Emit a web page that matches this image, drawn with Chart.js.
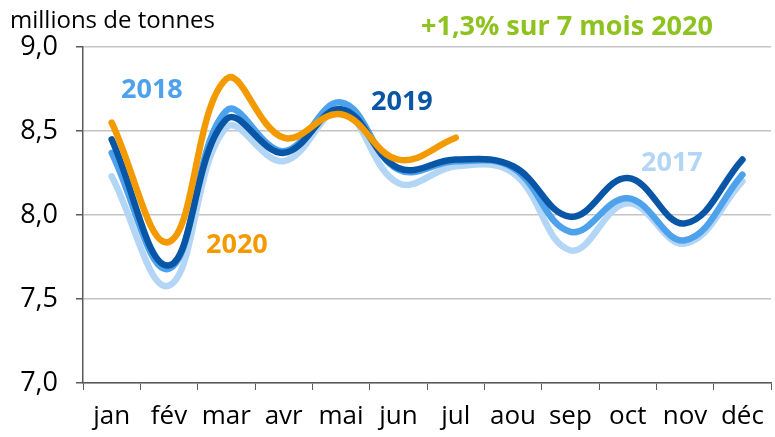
<!DOCTYPE html>
<html>
<head>
<meta charset="utf-8">
<script src="https://cdn.jsdelivr.net/npm/chart.js@4/dist/chart.umd.min.js"></script>
<style>
  html, body { margin: 0; padding: 0; background: #fff; }
  #wrap { width: 775px; height: 437px; position: relative; }
</style>
</head>
<body>
<div id="wrap"><canvas id="c"></canvas></div>
<script>
// ---------- DATA ----------
const months = ["jan", "fév", "mar", "avr", "mai", "jun", "jul", "aou", "sep", "oct", "nov", "déc"];
const y2017 = [8.23, 7.58, 8.52, 8.32, 8.62, 8.19, 8.29, 8.25, 7.79, 8.07, 7.83, 8.20];
const y2018 = [8.37, 7.68, 8.62, 8.38, 8.67, 8.27, 8.32, 8.28, 7.90, 8.10, 7.85, 8.24];
const y2019 = [8.45, 7.70, 8.57, 8.37, 8.63, 8.28, 8.33, 8.29, 7.99, 8.22, 7.95, 8.33];
const y2020 = [8.55, 7.84, 8.81, 8.46, 8.60, 8.33, 8.46];

const yTicks = [7.0, 7.5, 8.0, 8.5, 9.0];

const colors = {
  c2017: "#b3d5f6",
  c2018: "#4ea2ec",
  c2019: "#0a56a6",
  c2020: "#f39a00",
  green: "#8dc21f"
};

const FONT = "'Open Sans', 'Liberation Sans', sans-serif";

function lineSet(label, data, color) {
  return {
    label, data,
    borderColor: color,
    backgroundColor: color,
    borderWidth: 6.5,
    pointRadius: 0,
    tension: 0.4,
    borderCapStyle: "round",
    borderJoinStyle: "round",
    fill: false
  };
}

// ---------- TEXT OVERLAY ----------
const labelsPlugin = {
  id: "labels",
  afterDraw(chart) {
    const ctx = chart.ctx;
    ctx.save();
    ctx.textBaseline = "alphabetic";
    ctx.textAlign = "left";

    ctx.fillStyle = "#000";
    ctx.font = "24px " + FONT;
    ctx.fillText("millions de tonnes", 10, 28);

    ctx.fillStyle = colors.green;
    ctx.font = "bold 27px " + FONT;
    ctx.fillText("+1,3% sur 7 mois 2020", 421, 35);

    ctx.font = "bold 27px " + FONT;
    ctx.fillStyle = colors.c2018;
    ctx.fillText("2018", 121, 98);
    ctx.fillStyle = colors.c2019;
    ctx.fillText("2019", 371, 110);
    ctx.fillStyle = colors.c2017;
    ctx.fillText("2017", 641, 171);
    ctx.fillStyle = colors.c2020;
    ctx.fillText("2020", 206, 253);
    ctx.restore();
  }
};

new Chart(document.getElementById("c"), {
  type: "line",
  data: {
    labels: months,
    datasets: [
      lineSet("2020", y2020, colors.c2020),
      lineSet("2019", y2019, colors.c2019),
      lineSet("2018", y2018, colors.c2018),
      lineSet("2017", y2017, colors.c2017)
    ]
  },
  options: {
    responsive: true,
    maintainAspectRatio: false,
    animation: false,
    layout: { padding: { top: 47, right: 3, left: 0, bottom: 0 } },
    plugins: {
      legend: { display: false },
      tooltip: { enabled: false }
    },
    scales: {
      x: {
        offset: true,
        grid: {
          offset: true,
          drawOnChartArea: false,
          drawTicks: true,
          tickLength: 7,
          color: "#595959",
          lineWidth: 1
        },
        border: { color: "#595959", width: 1.5 },
        ticks: {
          color: "#000",
          font: { family: FONT, size: 26 },
          padding: 11,
          maxRotation: 0,
          autoSkip: false
        },
        afterFit(scale) { scale.height = 54; }
      },
      y: {
        min: 7,
        max: 9,
        afterBuildTicks(scale) { scale.ticks = yTicks.map(v => ({ value: v })); },
        grid: {
          color: "#c4c4c4",
          lineWidth: 1.5,
          tickColor: "#595959",
          tickLength: 7
        },
        border: { color: "#595959", width: 1.5 },
        ticks: {
          color: "#000",
          font: { family: FONT, size: 27 },
          padding: 18,
          callback: v => v.toFixed(1).replace(".", ",")
        },
        afterFit(scale) { scale.width = 83; }
      }
    }
  },
  plugins: [labelsPlugin]
});
</script>
</body>
</html>
